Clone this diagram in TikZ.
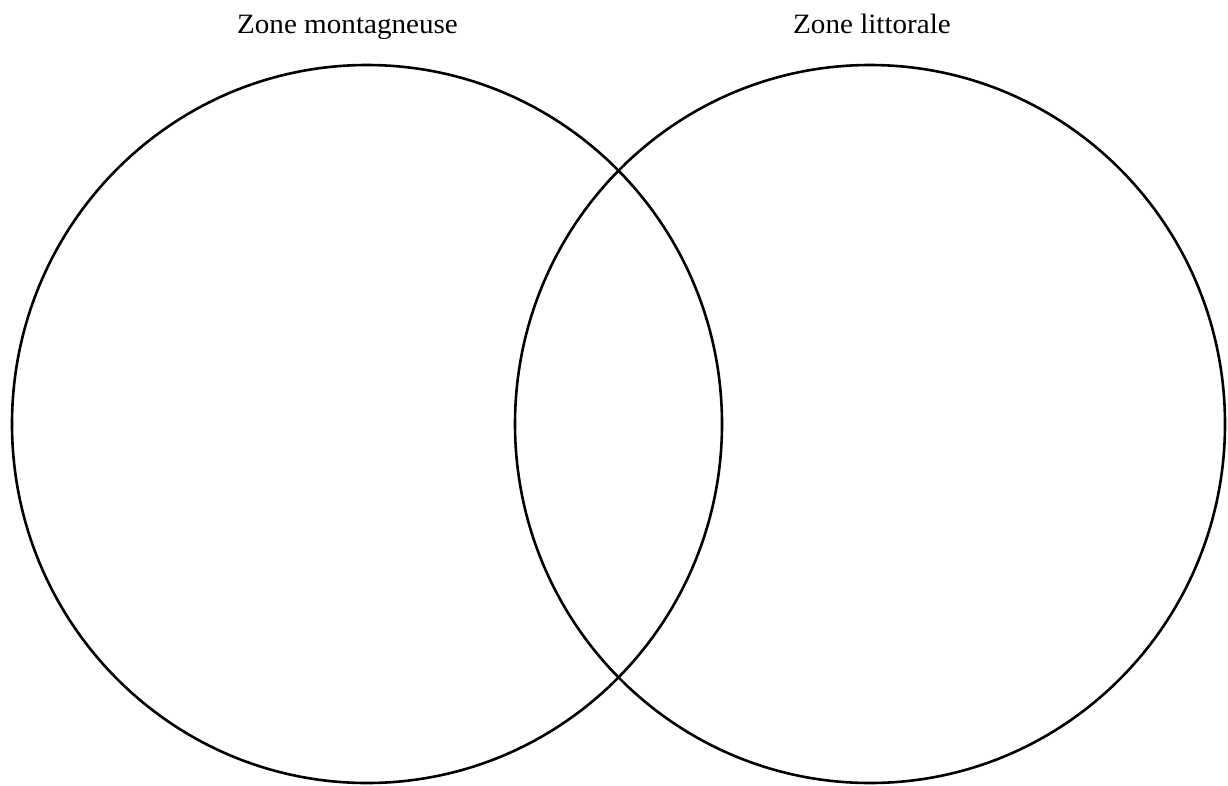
\documentclass[tikz,border=0pt]{standalone}
\usetikzlibrary{shapes.geometric}
\usepackage{fontspec}
\setmainfont{Liberation Serif}
\begin{document}
\begin{tikzpicture}[x=1pt,y=-1pt,
  ring/.style={draw=black,line width=2.6pt,ellipse,minimum width=710pt,minimum height=718pt,inner sep=0pt},
  title/.style={anchor=base,inner sep=0pt,font=\fontsize{28}{32}\selectfont,xscale=1.04}]
\useasboundingbox (0,0) rectangle (1228,785);
\node[ring] (left) at (367,424) {};
\node[ring] (right) at (870,424) {};
\node[title] (ltitle) at (347.5,33) {Zone montagneuse};
\node[title] (rtitle) at (872,33) {Zone littorale};
\end{tikzpicture}
\end{document}
